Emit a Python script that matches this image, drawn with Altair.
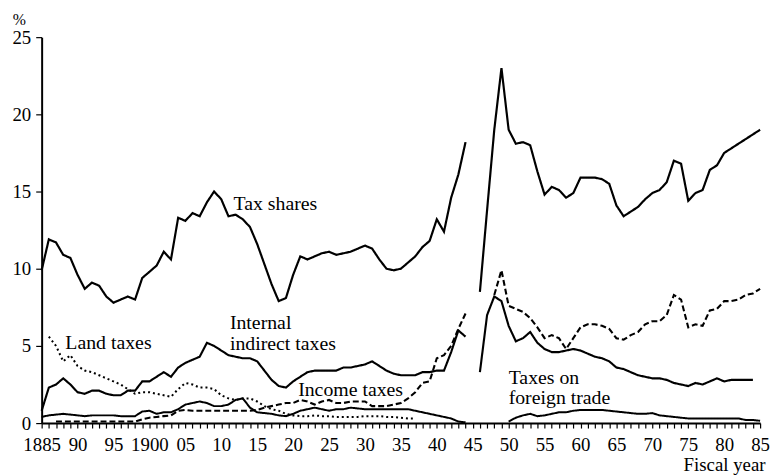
import altair as alt
import pandas as pd

# ---------------- data ----------------
series_names = ["Tax shares", "Internal indirect taxes", "Income taxes", "Land taxes", "Taxes on foreign trade"]

# pre-war segments
tax_pre_start = 1885
tax_pre = [9.9, 11.9, 11.7, 10.9, 10.7, 9.6, 8.7, 9.1, 8.9, 8.2,
           7.8, 8.0, 8.2, 8.0, 9.4, 9.8, 10.2, 11.1, 10.6, 13.3,
           13.1, 13.6, 13.4, 14.3, 15.0, 14.5, 13.4, 13.5, 13.2, 12.7,
           11.6, 10.3, 9.0, 7.9, 8.1, 9.6, 10.8, 10.6, 10.8, 11.0,
           11.1, 10.9, 11.0, 11.1, 11.3, 11.5, 11.3, 10.6, 10.0, 9.9,
           10.0, 10.4, 10.8, 11.4, 11.8, 13.2, 12.4, 14.6, 16.1, 18.2]

indirect_pre_start = 1885
indirect_pre = [0.8, 2.3, 2.5, 2.9, 2.5, 2.0, 1.9, 2.1, 2.1, 1.9,
                1.8, 1.8, 2.1, 2.1, 2.7, 2.7, 3.0, 3.3, 3.0, 3.6,
                3.9, 4.1, 4.3, 5.2, 5.0, 4.7, 4.4, 4.3, 4.2, 4.2,
                4.0, 3.4, 2.8, 2.4, 2.3, 2.7, 3.0, 3.3, 3.4, 3.4,
                3.4, 3.4, 3.6, 3.6, 3.7, 3.8, 4.0, 3.7, 3.4, 3.2,
                3.1, 3.1, 3.1, 3.3, 3.3, 3.4, 3.4, 4.6, 6.0, 5.6]

income_pre_start = 1887
income_pre = [0.1, 0.1, 0.1, 0.1, 0.1, 0.1, 0.1, 0.1,
              0.1, 0.1, 0.1, 0.1, 0.25, 0.35, 0.4, 0.45, 0.5, 0.8,
              0.85, 0.8, 0.8, 0.8, 0.8, 0.8, 0.8, 0.8, 0.8, 0.8,
              0.85, 1.0, 1.1, 1.2, 1.3, 1.3, 1.5, 1.4, 1.2, 1.4,
              1.5, 1.3, 1.3, 1.4, 1.4, 1.4, 1.1, 1.1, 1.1, 1.2,
              1.3, 1.6, 2.0, 2.6, 2.7, 4.2, 4.4, 5.0, 6.1, 7.1]

land_start = 1886
land = [5.6, 5.0, 4.0, 4.4, 3.7, 3.4, 3.3, 3.1, 2.9,
        2.7, 2.5, 2.2, 1.9, 2.0, 2.0, 1.9, 1.8, 1.7, 2.2,
        2.6, 2.5, 2.3, 2.3, 2.2, 1.8, 1.6, 1.5, 1.6, 1.6,
        1.4, 1.1, 0.9, 0.8, 0.6, 0.5, 0.45, 0.45, 0.5, 0.45,
        0.45, 0.4, 0.4, 0.4, 0.4, 0.45, 0.45, 0.45, 0.4, 0.4,
        0.35, 0.3, 0.3]

foreign_pre_start = 1885
foreign_pre = [0.4, 0.5, 0.55, 0.6, 0.55, 0.5, 0.45, 0.5, 0.5, 0.5,
               0.5, 0.45, 0.45, 0.45, 0.75, 0.8, 0.6, 0.7, 0.7, 0.9,
               1.2, 1.3, 1.4, 1.3, 1.1, 1.1, 1.2, 1.5, 1.6, 1.0,
               0.7, 0.65, 0.6, 0.5, 0.45, 0.6, 0.8, 0.9, 1.0, 0.9,
               0.8, 0.9, 0.9, 1.0, 0.95, 0.9, 0.9, 0.9, 0.9, 0.9,
               0.9, 0.9, 0.8, 0.7, 0.6, 0.5, 0.4, 0.3, 0.1, 0.05]

# post-war segments
tax_post_start = 1946
tax_post = [8.5, 13.8, 19.0, 23.0, 19.0, 18.1, 18.2, 18.0, 16.3,
            14.8, 15.3, 15.1, 14.6, 14.9, 15.9, 15.9, 15.9, 15.8, 15.5,
            14.1, 13.4, 13.7, 14.0, 14.5, 14.9, 15.1, 15.6, 17.0, 16.8,
            14.4, 14.9, 15.1, 16.4, 16.7, 17.5, 17.8, 18.1, 18.4, 18.7, 19.0]

indirect_post_start = 1946
indirect_post = [3.3, 7.0, 8.2, 7.9, 6.3, 5.3, 5.5, 5.9, 5.2,
                 4.8, 4.6, 4.6, 4.7, 4.8, 4.7, 4.5, 4.3, 4.2, 4.0,
                 3.6, 3.5, 3.3, 3.1, 3.0, 2.9, 2.9, 2.8, 2.6, 2.5,
                 2.4, 2.6, 2.5, 2.7, 2.9, 2.7, 2.8, 2.8, 2.8, 2.8]

income_post_start = 1948
income_post = [8.3, 9.9, 7.6, 7.4, 7.2, 6.8, 6.2,
               5.5, 5.7, 5.5, 4.8, 5.5, 6.2, 6.4, 6.4, 6.3, 6.1,
               5.5, 5.4, 5.7, 5.9, 6.4, 6.6, 6.6, 7.0, 8.3, 8.0,
               6.2, 6.4, 6.3, 7.3, 7.4, 7.9, 7.9, 8.0, 8.3, 8.4, 8.7]

foreign_post_start = 1950
foreign_post = [0.1, 0.35, 0.5, 0.6, 0.45, 0.5, 0.6, 0.7, 0.7, 0.8,
                0.85, 0.85, 0.85, 0.85, 0.8, 0.75, 0.7, 0.65, 0.6, 0.6,
                0.65, 0.5, 0.45, 0.4, 0.35, 0.3, 0.3, 0.3, 0.3, 0.3,
                0.3, 0.3, 0.3, 0.2, 0.2, 0.15]

tick_years = [1885, 1890, 1895, 1900, 1905, 1910, 1915, 1920, 1925, 1930, 1935,
              1940, 1945, 1950, 1955, 1960, 1965, 1970, 1975, 1980, 1985]
tick_labels = ["1885", "90", "95", "1900", "05", "10", "15", "20", "25", "30", "35",
               "40", "45", "50", "55", "60", "65", "70", "75", "80", "85"]

ann_text = ["Tax shares", "Land taxes", "Internal", "indirect taxes", "Income taxes",
            "Taxes on", "foreign trade"]
ann_year = [1911.7, 1888.3, 1911.2, 1911.2, 1920.7, 1950.0, 1950.0]
ann_value = [14.2, 5.2, 6.5, 5.15, 2.15, 2.9, 1.6]

# ---------------- build table ----------------
rows = []
def add(name, seg, start, values):
    for i, v in enumerate(values):
        rows.append({"series": name, "seg": name + "|" + seg, "year": start + i, "value": v})

add("Tax shares", "pre", tax_pre_start, tax_pre)
add("Tax shares", "post", tax_post_start, tax_post)
add("Internal indirect taxes", "pre", indirect_pre_start, indirect_pre)
add("Internal indirect taxes", "post", indirect_post_start, indirect_post)
add("Income taxes", "pre", income_pre_start, income_pre)
add("Income taxes", "post", income_post_start, income_post)
add("Land taxes", "pre", land_start, land)
add("Taxes on foreign trade", "pre", foreign_pre_start, foreign_pre)
add("Taxes on foreign trade", "post", foreign_post_start, foreign_post)
df = pd.DataFrame(rows)

ann = pd.DataFrame({"text": ann_text, "year": ann_year, "value": ann_value})

label_expr = "".join(f"datum.value == {y} ? '{l}' : " for y, l in zip(tick_years, tick_labels)) + "''"

FONT = "Liberation Serif"
all_years = list(range(1885, 1986))

x_scale = alt.Scale(domain=[1885, 1985], nice=False, zero=False)
y_scale = alt.Scale(domain=[0, 25], nice=False)

lines = alt.Chart(df).mark_line(color="black").encode(
    x=alt.X("year:Q", scale=x_scale,
            axis=alt.Axis(values=all_years, tickCount=len(all_years), labelExpr=label_expr,
                          labelOverlap=False, labelFlush=False, tickSize=5,
                          labelPadding=8, title="Fiscal year",
                          titleX=731, titleY=42, titleAlign="right",
                          titleBaseline="middle", titleFont=FONT,
                          titleFontSize=19, titleFontWeight="normal")),
    y=alt.Y("value:Q", scale=y_scale,
            axis=alt.Axis(values=[0, 5, 10, 15, 20, 25], tickSize=6, labelPadding=5,
                          title="%", titleAngle=0, titleX=-23, titleY=-18,
                          titleAlign="center", titleBaseline="middle",
                          titleFont=FONT, titleFontSize=16, titleFontWeight="normal")),
    detail="seg:N",
    strokeDash=alt.StrokeDash("series:N", scale=alt.Scale(
        domain=series_names, range=[[1, 0], [1, 0], [6, 3], [2, 3], [1, 0]]), legend=None),
    strokeWidth=alt.StrokeWidth("series:N", scale=alt.Scale(
        domain=series_names, range=[2.2, 2.0, 1.8, 2.0, 1.8]), legend=None),
)

labels = alt.Chart(ann).mark_text(align="left", baseline="middle", font=FONT,
                                  fontSize=20, color="black").encode(
    x=alt.X("year:Q", scale=x_scale),
    y=alt.Y("value:Q", scale=y_scale),
    text="text:N",
)

chart = alt.layer(lines, labels).properties(
    width=726, height=390, autosize="none",
    padding={"left": 34, "top": 27, "right": 10, "bottom": 51},
).configure_view(stroke=None).configure_axis(
    grid=False, domainColor="black", domainWidth=2, tickColor="black", tickWidth=1.2,
    labelFont=FONT, labelFontSize=19, labelColor="black", titleColor="black",
)

chart.save("out.html", embed_options={"renderer": "svg", "actions": False})
